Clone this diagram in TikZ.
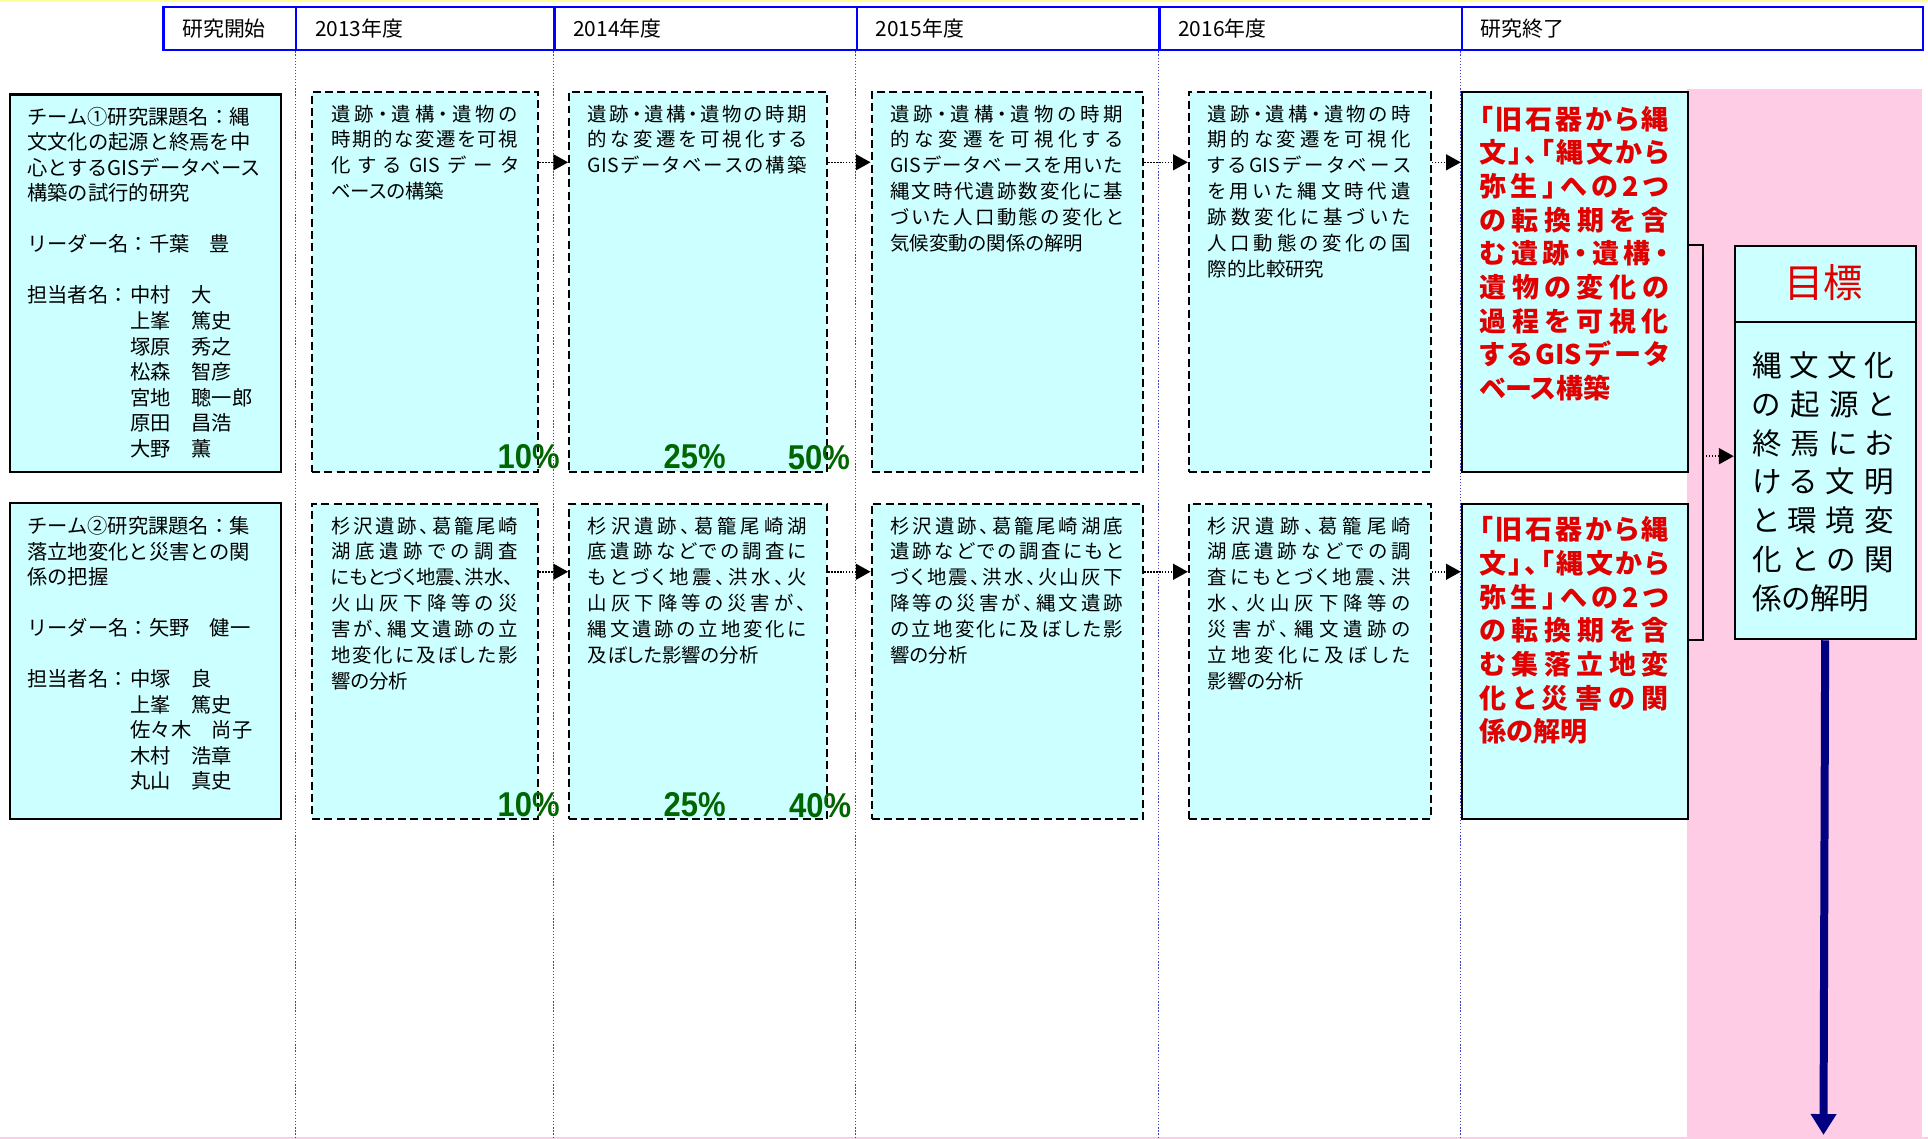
\documentclass[tikz,border=0pt]{standalone}
\usepackage{fontspec}
\setmainfont{Noto Sans CJK JP}
\newfontfamily\pfont{Noto Sans CJK JP}[RawFeature=+palt]
\newfontfamily\pctfont{Liberation Sans}[FakeStretch=0.9]
\usetikzlibrary{arrows.meta,calc}
\definecolor{cyanfill}{HTML}{CCFFFF}
\definecolor{pinkfill}{HTML}{FFCCE5}
\definecolor{hdrblue}{HTML}{0000FF}
\definecolor{gridblue}{HTML}{4040C8}
\definecolor{redtxt}{HTML}{E00000}
\definecolor{pctgreen}{HTML}{006600}
\definecolor{navyarrow}{HTML}{000080}
\definecolor{topyellow}{HTML}{FFFF99}
\ExplSyntaxOn
\NewDocumentCommand \jl { m m } { \makebox[#1pt][s]{ \tl_map_inline:nn {#2} { ##1 \hfil } \unskip } }
\ExplSyntaxOff
\tikzset{
  hdrcell/.style={draw=hdrblue, line width=1.8pt, minimum height=35pt, anchor=north west, inner sep=0pt},
  hdrtext/.style={anchor=west, inner sep=0pt, font=\fontsize{17}{19}\selectfont},
  solidbox/.style={draw=black, line width=1.7pt, fill=cyanfill, anchor=north west, inner sep=0pt},
  dashbox/.style={draw=black, line width=1.6pt, dash pattern=on 6.5pt off 3.5pt, fill=cyanfill, anchor=north west, inner sep=0pt},
  teamtext/.style={anchor=north west, inner sep=0pt, align=left, font=\fontsize{16.5}{20.75}\selectfont},
  bodytext/.style={anchor=north west, inner sep=0pt, align=left, font=\pfont\fontsize{15.8}{21}\selectfont},
  redtext/.style={anchor=north west, inner sep=0pt, align=left, text=redtxt, font=\pfont\bfseries\fontsize{22}{27.4}\selectfont},
  goaltext/.style={anchor=north west, inner sep=0pt, align=left, font=\pfont\fontsize{24}{31.5}\selectfont},
  pct/.style={inner sep=0pt, text=pctgreen, font=\pctfont\bfseries\fontsize{28}{28}\selectfont},
  flowarrow/.style={draw=black, line width=1.2pt, dash pattern=on 1.2pt off 1.2pt, -{Triangle[length=12pt,width=13pt]}},
  gridline/.style={draw=gridblue, line width=0.8pt, dash pattern=on 1pt off 1.5pt},
}
\begin{document}
\begin{tikzpicture}[x=1pt,y=-1pt]
\useasboundingbox (0,0) rectangle (1568,926);
% background bands
\fill[pinkfill] (1372,72) rectangle (1563,926);
\draw[topyellow, line width=2pt] (0,1) -- (1568,1);
\draw[pinkfill, line width=1.5pt] (0,925.3) -- (1568,925.3);
% header
\node[hdrcell, minimum width=108pt] (h0) at (132,5) {};
\node[hdrcell, minimum width=210pt] (h1) at (240,5) {};
\node[hdrcell, minimum width=246pt] (h2) at (450,5) {};
\node[hdrcell, minimum width=246pt] (h3) at (696,5) {};
\node[hdrcell, minimum width=246pt] (h4) at (942,5) {};
\node[hdrcell, minimum width=375pt] (h5) at (1188,5) {};
\node[hdrtext] (h0t) at ($(h0.west)+(16,0)$) {研究開始};
\node[hdrtext] (h1t) at ($(h1.west)+(16,0)$) {2013年度};
\node[hdrtext] (h2t) at ($(h2.west)+(16,0)$) {2014年度};
\node[hdrtext] (h3t) at ($(h3.west)+(16,0)$) {2015年度};
\node[hdrtext] (h4t) at ($(h4.west)+(16,0)$) {2016年度};
\node[hdrtext] (h5t) at ($(h5.west)+(16,0)$) {研究終了};
% grid lines
\foreach \h in {h1,h2,h3,h4,h5}
  \draw[gridline] (\h.south west) -- (\h.south west |- 0,926);
% team boxes
\node[solidbox, minimum width=221pt, minimum height=307pt] (team1) at (7,76) {};
\node[solidbox, minimum width=221pt, minimum height=257pt] (team2) at (7,408) {};
\node[teamtext] (team1t) at (22,87) {チーム①研究課題名：縄\\文文化の起源と終焉を中\\心とするGISデータベース\\構築の試行的研究\\\mbox{}\\リーダー名：千葉　豊\\\mbox{}\\\makebox[84pt][l]{担当者名：}中村　大\\\hspace*{84pt}上峯　篤史\\\hspace*{84pt}塚原　秀之\\\hspace*{84pt}松森　智彦\\\hspace*{84pt}宮地　聰一郎\\\hspace*{84pt}原田　昌浩\\\hspace*{84pt}大野　薫};
\node[teamtext] (team2t) at (22,420) {チーム②研究課題名：集\\落立地変化と災害との関\\係の把握\\\mbox{}\\リーダー名：矢野　健一\\\mbox{}\\\makebox[84pt][l]{担当者名：}中塚　良\\\hspace*{84pt}上峯　篤史\\\hspace*{84pt}佐々木　尚子\\\hspace*{84pt}木村　浩章\\\hspace*{84pt}丸山　真史};
% row 1 boxes
\node[dashbox, minimum width=184pt, minimum height=309pt] (a13) at (253,74) {};
\node[dashbox, minimum width=210pt, minimum height=309pt] (a14) at (462,74) {};
\node[dashbox, minimum width=221pt, minimum height=309pt] (a15) at (708,74) {};
\node[dashbox, minimum width=197pt, minimum height=309pt] (a16) at (966,74) {};
\node[solidbox, minimum width=184pt, minimum height=309pt] (red1) at (1188,74) {};
% row 2 boxes
\node[dashbox, minimum width=184pt, minimum height=256pt] (b13) at (253,409) {};
\node[dashbox, minimum width=210pt, minimum height=256pt] (b14) at (462,409) {};
\node[dashbox, minimum width=221pt, minimum height=256pt] (b15) at (708,409) {};
\node[dashbox, minimum width=197pt, minimum height=256pt] (b16) at (966,409) {};
\node[solidbox, minimum width=184pt, minimum height=256pt] (red2) at (1188,409) {};
% goal box
\node[solidbox, minimum width=147pt, minimum height=320pt] (goal) at (1410,199) {};
\draw[line width=1.7pt] (goal.west |- 0,262) -- (goal.east |- 0,262);
\node[inner sep=0pt, text=redtxt, font=\fontsize{32}{34}\selectfont] (goalt) at (1483,230) {目標};
\node[goaltext] (goalb) at (1425,286) {\jl{115}{縄文文化}\\\jl{115}{の起源と}\\\jl{115}{終焉にお}\\\jl{115}{ける文明}\\\jl{115}{と環境変}\\\jl{115}{化との関}\\係の解明};
% row 1 texts
\node[bodytext] (a13t) at (269,85) {\jl{152}{遺跡・遺構・遺物の}\\\jl{152}{時期的な変遷を可視}\\\jl{152}{化する{GIS}データ}\\ベースの構築};
\node[bodytext] (a14t) at (478,85) {\jl{178}{遺跡・遺構・遺物の時期}\\\jl{178}{的な変遷を可視化する}\\\jl{178}{{GIS}データベースの構築}};
\node[bodytext] (a15t) at (724,85) {\jl{189}{遺跡・遺構・遺物の時期}\\\jl{189}{的な変遷を可視化する}\\\jl{189}{{GIS}データベースを用いた}\\\jl{189}{縄文時代遺跡数変化に基}\\\jl{189}{づいた人口動態の変化と}\\気候変動の関係の解明};
\node[bodytext] (a16t) at (982,85) {\jl{165}{遺跡・遺構・遺物の時}\\\jl{165}{期的な変遷を可視化}\\\jl{165}{する{GIS}データベース}\\\jl{165}{を用いた縄文時代遺}\\\jl{165}{跡数変化に基づいた}\\\jl{165}{人口動態の変化の国}\\際的比較研究};
\node[redtext] (red1t) at (1203,86) {\jl{154}{「旧石器から縄}\\\jl{154}{文」、「縄文から}\\\jl{154}{弥生」への2つ}\\\jl{154}{の転換期を含}\\\jl{154}{む遺跡・遺構・}\\\jl{154}{遺物の変化の}\\\jl{154}{過程を可視化}\\\jl{154}{する{GIS}データ}\\ベース構築};
% row 2 texts
\node[bodytext] (b13t) at (269,420) {\jl{152}{杉沢遺跡、葛籠尾崎}\\\jl{152}{湖底遺跡での調査}\\にもとづく地震、洪水、\\\jl{152}{火山灰下降等の災}\\\jl{152}{害が、縄文遺跡の立}\\\jl{152}{地変化に及ぼした影}\\響の分析};
\node[bodytext] (b14t) at (478,420) {\jl{178}{杉沢遺跡、葛籠尾崎湖}\\\jl{178}{底遺跡などでの調査に}\\\jl{178}{もとづく地震、洪水、火}\\\jl{178}{山灰下降等の災害が、}\\\jl{178}{縄文遺跡の立地変化に}\\及ぼした影響の分析};
\node[bodytext] (b15t) at (724,420) {\jl{189}{杉沢遺跡、葛籠尾崎湖底}\\\jl{189}{遺跡などでの調査にもと}\\\jl{189}{づく地震、洪水、火山灰下}\\\jl{189}{降等の災害が、縄文遺跡}\\\jl{189}{の立地変化に及ぼした影}\\響の分析};
\node[bodytext] (b16t) at (982,420) {\jl{165}{杉沢遺跡、葛籠尾崎}\\\jl{165}{湖底遺跡などでの調}\\\jl{165}{査にもとづく地震、洪}\\\jl{165}{水、火山灰下降等の}\\\jl{165}{災害が、縄文遺跡の}\\\jl{165}{立地変化に及ぼした}\\影響の分析};
\node[redtext] (red2t) at (1203,420) {\jl{154}{「旧石器から縄}\\\jl{154}{文」、「縄文から}\\\jl{154}{弥生」への2つ}\\\jl{154}{の転換期を含}\\\jl{154}{む集落立地変}\\\jl{154}{化と災害の関}\\係の解明};
% percentages
\node[pct] (p1) at (430,371) {10\%};
\node[pct] (p2) at (565,371) {25\%};
\node[pct] (p3) at (666,372) {50\%};
\node[pct] (p4) at (430,654) {10\%};
\node[pct] (p5) at (565,654) {25\%};
\node[pct] (p6) at (667,655) {40\%};
% flow arrows
\draw[flowarrow] (a13.east |- 0,132) -- (a14.west |- 0,132);
\draw[flowarrow] (a14.east |- 0,132) -- (a15.west |- 0,132);
\draw[flowarrow] (a15.east |- 0,132) -- (a16.west |- 0,132);
\draw[flowarrow] (a16.east |- 0,132) -- (red1.west |- 0,132);
\draw[flowarrow] (b13.east |- 0,465) -- (b14.west |- 0,465);
\draw[flowarrow] (b14.east |- 0,465) -- (b15.west |- 0,465);
\draw[flowarrow] (b15.east |- 0,465) -- (b16.west |- 0,465);
\draw[flowarrow] (b16.east |- 0,465) -- (red2.west |- 0,465);
% bracket to goal
\coordinate (bx) at (1385,0);
\draw[line width=1.5pt] (red1.east |- goal.north) -| (bx |- goal.south) -- (red2.east |- goal.south);
\draw[flowarrow] (bx |- 0,371) -- (goal.west |- 0,371);
% goal arrow
\coordinate (arrowend) at (1483,923);
\draw[navyarrow, line width=6.5pt, -{Triangle[length=17pt,width=20pt]}] (goal.south) -- (arrowend);
\end{tikzpicture}
\end{document}
